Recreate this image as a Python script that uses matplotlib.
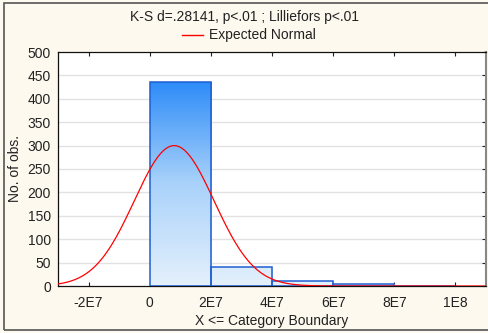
import numpy as np
import matplotlib
matplotlib.use("Agg")
import matplotlib.pyplot as plt
from matplotlib.colors import LinearSegmentedColormap
from matplotlib.patches import Rectangle

plt.rcParams['font.family'] = ['Liberation Sans', 'DejaVu Sans']

# Histogram data: category upper boundaries and observed counts
bin_edges = [0, 2e7, 4e7, 6e7, 8e7, 1e8]
counts = [436, 40, 10, 4, 1]
# Fitted normal parameters
fit_mean = 0.8e7
fit_sd = 1.306e7

x_ticks = [-2e7, 0, 2e7, 4e7, 6e7, 8e7, 1e8]
x_tick_labels = ["-2E7", "0", "2E7", "4E7", "6E7", "8E7", "1E8"]
y_ticks = list(range(0, 501, 50))

title_text = "K-S d=.28141, p<.01 ; Lilliefors p<.01"
legend_text = "Expected Normal"
x_label = "X <= Category Boundary"
y_label = "No. of obs."

bg = "#FEF9EE"
fig = plt.figure(figsize=(4.88, 3.33), dpi=100, facecolor=bg)
ax = fig.add_axes([58/488, 1-286/333, (486-58)/488, (286-52)/333])
ax.set_facecolor("white")
ax.set_xlim(-3e7, 1.1e8)
ax.set_ylim(0, 500)

# horizontal grid
for yv in y_ticks[1:-1]:
    ax.axhline(yv, color="#E2E2E2", lw=1.0, zorder=0)

# gradient-filled bars
cmap = LinearSegmentedColormap.from_list("barfill", ["#E4F0FC", "#A9D2FA", "#2A8AF8"])
ymax_grad = 440.0
for x0, x1, c in zip(bin_edges[:-1], bin_edges[1:], counts):
    grad = np.linspace(0, c / ymax_grad, 256).reshape(-1, 1)
    im = ax.imshow(grad, cmap=cmap, vmin=0, vmax=1, origin="lower",
                   extent=(x0, x1, 0, c), aspect="auto", zorder=2,
                   interpolation="bilinear")
    rect = Rectangle((x0, 0), x1 - x0, c, facecolor="none",
                     edgecolor="#1F5ECF", lw=1.1, zorder=3)
    ax.add_patch(rect)
    im.set_clip_path(rect)
ax.set_xlim(-3e7, 1.1e8)
ax.set_ylim(0, 500)

# expected normal curve
n_total = sum(counts)
bw = bin_edges[1] - bin_edges[0]
xs = np.linspace(-3e7, 1.1e8, 600)
ys = n_total * bw / (fit_sd * np.sqrt(2 * np.pi)) * np.exp(-0.5 * ((xs - fit_mean) / fit_sd) ** 2)
ax.plot(xs, ys, color="#FF0000", lw=0.9, zorder=4)

ax.set_xticks(x_ticks)
ax.set_xticklabels(x_tick_labels)
ax.set_yticks(y_ticks)
ax.tick_params(direction="in", length=3, width=0.8, labelsize=10, colors="#222222",
               top=True, right=True, left=False, pad=5)
ax.tick_params(axis="x", pad=7)
for s in ["top", "left", "bottom"]:
    ax.spines[s].set_color("#111111")
    ax.spines[s].set_linewidth(0.9)
ax.spines["right"].set_color("#888888")
ax.spines["right"].set_linewidth(1.5)

ax.set_xlabel(x_label, fontsize=10, labelpad=3, color="#222222")
ax.set_ylabel(y_label, fontsize=10, labelpad=4, color="#222222")

fig.text(244/488, 1-17/333, title_text, ha="center", va="center", fontsize=10, color="#222222")
fig.lines.append(plt.Line2D([182/488, 203/488], [1-35/333, 1-35/333], color="#FF0000", lw=1.0,
                            transform=fig.transFigure))
fig.text(209/488, 1-35/333, legend_text, ha="left", va="center", fontsize=10, color="#222222")

# outer frame
fig.patches.append(Rectangle((4/488, 1-330/333), 1.0, (330-3)/333, transform=fig.transFigure,
                             facecolor="none", edgecolor="#555555", lw=1.2))

fig.savefig("out.png", dpi=100, facecolor=bg)
